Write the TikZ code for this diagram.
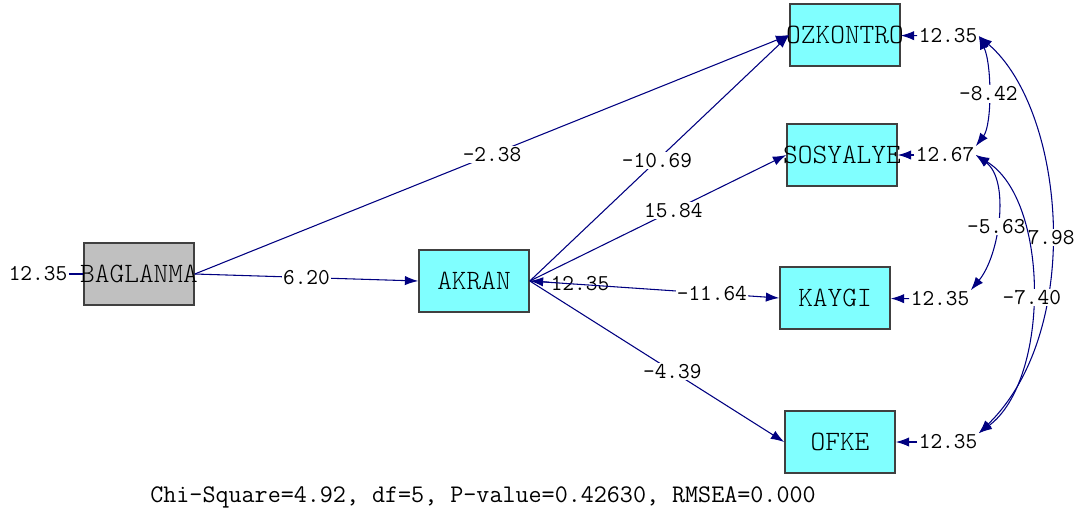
\documentclass[tikz,border=0pt]{standalone}
\usetikzlibrary{arrows.meta}
\definecolor{navy}{RGB}{0,0,128}
\definecolor{boxcyan}{RGB}{128,255,255}
\definecolor{boxgray}{RGB}{192,192,192}
\begin{document}
\begin{tikzpicture}[x=0.75pt,y=-0.75pt,
    var/.style={draw=black!75,line width=1.2pt,fill=boxcyan,minimum width=82.5pt,
      minimum height=46.5pt,inner xsep=-6pt,inner ysep=0pt,font=\ttfamily\fontseries{l}\fontsize{21}{21}\selectfont},
    num/.style={inner sep=1pt,text=black,font=\ttfamily\fontsize{17}{17}\selectfont},
    lbl/.style={num,fill=white},
    link/.style={navy,line width=0.8pt,-{Latex[length=10pt,width=7pt]}},
    cov/.style={navy,line width=0.8pt,{Latex[length=10pt,width=7pt]}-{Latex[length=10pt,width=7pt]}}]
  \useasboundingbox (0,0) rectangle (1077,515);
  % variables
  \node[var,fill=boxgray] (bag) at (139,274) {BAGLANMA};
  \node[var] (akr) at (474,281) {AKRAN};
  \node[var] (ozk) at (845,35) {OZKONTRO};
  \node[var] (sos) at (842,155) {SOSYALYE};
  \node[var] (kay) at (835,298) {KAYGI};
  \node[var] (ofk) at (840,442) {OFKE};
  % error variances
  \node[num] (ebag) at (38,274) {12.35};
  \node[num] (eakr) at (580,284) {12.35};
  \node[num] (eozk) at (948,36) {12.35};
  \node[num] (esos) at (945,155) {12.67};
  \node[num] (ekay) at (940,299) {12.35};
  \node[num] (eofk) at (948,442) {12.35};
  \draw[navy,line width=0.8pt] (ebag) -- (bag);
  \draw[link] (eakr) -- (akr.east);
  \draw[link] (eozk) -- (ozk);
  \draw[link] (esos) -- (sos);
  \draw[link] (ekay) -- (kay);
  \draw[link] (eofk) -- (ofk);
  % paths
  \draw[link] (bag.east) -- node[lbl,pos=0.5]{-2.38} (ozk.west);
  \draw[link] (bag.east) -- node[lbl,pos=0.5]{6.20} (akr.west);
  \draw[link] (akr.east) -- node[lbl,pos=0.49]{-10.69} (ozk.west);
  \draw[link] (akr.east) -- node[lbl,pos=0.56]{15.84} (sos.west);
  \draw[link] (akr.east) -- node[lbl,pos=0.73]{-11.64} (kay.west);
  \draw[link] (akr.east) -- node[lbl,pos=0.56]{-4.39} (ofk.west);
  % error covariances
  \draw[cov] (eozk.east) .. controls (992,65) and (992,125) .. node[lbl,pos=0.5]{-8.42} (esos.north east);
  \draw[cov] (esos.east) .. controls (1010,180) and (1000,255) .. node[lbl,pos=0.55]{-5.63} (ekay.north east);
  \draw[cov] (eozk.east) .. controls (1065,110) and (1085,330) .. node[lbl,pos=0.53]{7.98} (eofk.north east);
  \draw[cov] (esos.east) .. controls (1050,200) and (1050,380) .. node[lbl,pos=0.52]{-7.40} (eofk.north east);
  % fit
  \node[font=\ttfamily\fontsize{19}{19}\selectfont] (fit) at (483,497)
    {Chi-Square=4.92, df=5, P-value=0.42630, RMSEA=0.000};
\end{tikzpicture}
\end{document}
